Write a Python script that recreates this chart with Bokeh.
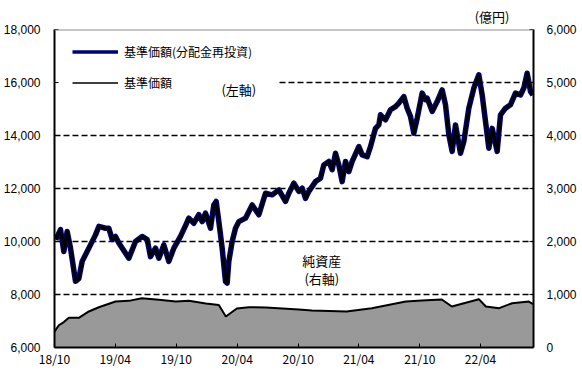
import pandas as pd
from bokeh.plotting import figure
from bokeh.models import (Range1d, LinearAxis, FixedTicker, NumeralTickFormatter,
                          Span, Label, Legend, LegendItem, BoxAnnotation)
from bokeh.embed import file_html
from bokeh.resources import INLINE

# ---- data ----
price_dates = [
    "2018-10-05", "2018-10-19", "2018-10-29", "2018-11-08", "2018-11-18", "2018-12-03",
    "2018-12-13", "2018-12-23", "2019-01-12", "2019-02-01", "2019-02-11", "2019-03-03",
    "2019-03-13", "2019-03-23", "2019-04-02", "2019-04-12", "2019-05-12", "2019-06-01",
    "2019-06-21", "2019-07-06", "2019-07-16", "2019-07-31", "2019-08-10", "2019-08-25",
    "2019-09-09", "2019-09-24", "2019-10-14", "2019-10-29", "2019-11-08", "2019-11-23",
    "2019-12-08", "2019-12-18", "2019-12-28", "2020-01-12", "2020-01-22", "2020-01-29",
    "2020-02-06", "2020-02-16", "2020-02-26", "2020-03-02", "2020-03-07", "2020-03-17",
    "2020-03-27", "2020-04-06", "2020-04-26", "2020-05-16", "2020-06-05", "2020-06-25",
    "2020-07-15", "2020-08-04", "2020-08-24", "2020-09-03", "2020-09-18", "2020-10-03",
    "2020-10-13", "2020-10-23", "2020-11-02", "2020-11-22", "2020-12-07", "2020-12-17",
    "2021-01-01", "2021-01-11", "2021-01-21", "2021-01-31", "2021-02-10", "2021-02-20",
    "2021-03-02", "2021-03-12", "2021-04-01", "2021-04-11", "2021-04-26", "2021-05-06",
    "2021-05-21", "2021-05-31", "2021-06-05", "2021-06-20", "2021-07-05", "2021-07-20",
    "2021-07-30", "2021-08-14", "2021-08-24", "2021-09-03", "2021-09-13", "2021-09-23",
    "2021-10-08", "2021-10-18", "2021-10-23", "2021-11-07", "2021-11-22", "2021-12-07",
    "2021-12-17", "2021-12-27", "2022-01-06", "2022-01-16", "2022-01-31", "2022-02-10",
    "2022-02-25", "2022-03-12", "2022-03-27", "2022-04-06", "2022-04-16", "2022-04-26",
    "2022-05-06", "2022-05-21", "2022-05-31", "2022-06-15", "2022-06-30", "2022-07-15",
    "2022-07-30", "2022-08-09", "2022-08-19", "2022-08-29", "2022-09-05",
]
nav_reinvested = [
    10075, 10450, 9620, 10380, 9750, 8500,
    8600, 9250, 9750, 10250, 10570, 10500,
    10500, 10080, 10190, 9940, 9370, 10000,
    10190, 10075, 9430, 9750, 9370, 9870,
    9250, 9750, 10190, 10600, 10880, 10690,
    11010, 10750, 11070, 10500, 11380, 11510,
    10750, 9750, 8490, 8430, 9250, 10000,
    10500, 10750, 10880, 11380, 11010, 11820,
    11760, 11950, 11510, 11820, 12200, 11890,
    12010, 11630, 11890, 12260, 12390, 12890,
    13020, 12710, 13330, 12890, 12260, 13020,
    12640, 13020, 13580, 13270, 13200, 13580,
    14270, 14400, 14780, 14590, 14970, 15090,
    15220, 15470, 15030, 14720, 14090, 14650,
    15600, 15350, 15410, 14910, 15280, 15720,
    15160, 14030, 13400, 14400, 13330, 13770,
    15030, 15790, 16290, 15530, 14530, 13520,
    14270, 13400, 14780, 15030, 15160, 15600,
    15530, 15790, 16350, 15660, 15530,
]
nav = list(nav_reinvested)  # no distributions: both series coincide

asset_dates = [
    "2018-10-01", "2018-10-14", "2018-10-29", "2018-11-13", "2018-11-22", "2018-12-13",
    "2019-01-12", "2019-02-11", "2019-04-02", "2019-05-12", "2019-06-20", "2019-08-10",
    "2019-09-30", "2019-11-08", "2019-12-29", "2020-02-06", "2020-02-27", "2020-03-31",
    "2020-05-06", "2020-06-26", "2020-10-03", "2020-11-11", "2021-02-23", "2021-05-10",
    "2021-08-20", "2021-10-07", "2021-12-06", "2022-01-05", "2022-03-27", "2022-04-17",
    "2022-05-27", "2022-07-05", "2022-08-24", "2022-09-05",
]
net_assets = [
    300, 420, 480, 560, 560, 560,
    680, 760, 868, 880, 930, 900,
    868, 880, 830, 800, 585, 736,
    760, 755, 717, 698, 679, 742,
    868, 887, 906, 774, 912, 774,
    742, 836, 868, 817,
]

xtick_dates = ["2018-10-01", "2019-04-01", "2019-10-01", "2020-04-01",
               "2020-10-01", "2021-04-01", "2021-10-01", "2022-04-01"]
xtick_labels = ["18/10", "19/04", "19/10", "20/04", "20/10", "21/04", "21/10", "22/04"]
left_ticks = [6000, 8000, 10000, 12000, 14000, 16000, 18000]
grid_ticks = [8000, 10000, 12000, 14000, 16000]
right_ticks = [0, 1000, 2000, 3000, 4000, 5000, 6000]

# ---- figure ----
JP = "Noto Sans CJK JP"
NUM = "Liberation Sans"

pdates = pd.to_datetime(price_dates)
adates = pd.to_datetime(asset_dates)
x_start = pd.Timestamp("2018-10-01")
x_end = pd.Timestamp("2022-09-07")

p = figure(frame_width=479, frame_height=318, output_backend="svg", toolbar_location=None,
           x_axis_type="datetime",
           x_range=Range1d(x_start, x_end), y_range=Range1d(6000, 18000),
           min_border_left=47, min_border_right=40, min_border_top=28, min_border_bottom=26)
p.extra_y_ranges = {"assets": Range1d(0, 6000)}
p.outline_line_color = None
p.background_fill_color = "white"
p.border_fill_color = "white"

# unit label above the right axis
p.title.text = "(億円)"
p.title.align = "right"
p.title.offset = 24
p.title.standoff = 8
p.title.text_font = JP
p.title.text_font_size = "13px"
p.title.text_font_style = "normal"
p.title.text_color = "black"

# grid
p.xgrid.visible = False
p.ygrid.ticker = FixedTicker(ticks=grid_ticks)
p.ygrid.grid_line_color = "black"
p.ygrid.grid_line_dash = "6 3"
p.ygrid.grid_line_width = 1.6

# top border
p.add_layout(Span(location=18000, dimension="width", line_color="#8c8c8c", line_width=2))

# white legend area that masks the gridline behind the legend
p.add_layout(BoxAnnotation(left=x_start, right=pd.Timestamp("2020-07-29"),
                           bottom=15650, top=16350, fill_color="white", fill_alpha=1,
                           line_color=None, level="underlay"))

# net assets area (right axis)
p.varea(x=adates, y1=0, y2=net_assets, fill_color="#999999", y_range_name="assets")
p.line(x=adates, y=net_assets, line_color="black", line_width=2, y_range_name="assets")

# price lines
p.line(x=pdates, y=nav_reinvested, line_color="#000080", line_width=5.5, line_join="round")
p.line(x=pdates, y=nav, line_color="black", line_width=3, line_join="round")

# legend-only renderers (drawn off-range, only their legend glyphs are visible)
leg1 = p.line(x=[x_start, x_start], y=[0, 0], line_color="#000080", line_width=3.5)
leg2 = p.line(x=[x_start, x_start], y=[0, 0], line_color="black", line_width=1.5)
legend = Legend(items=[LegendItem(label="基準価額(分配金再投資)", renderers=[leg1]),
                       LegendItem(label="基準価額", renderers=[leg2])],
                location=(18, 255), orientation="vertical",
                border_line_color=None, background_fill_alpha=0,
                padding=0, margin=0, spacing=12, label_height=19, glyph_height=19,
                glyph_width=46, label_standoff=6,
                label_text_font=JP, label_text_font_size="12px", label_text_color="black")
p.add_layout(legend)

# axes
xax = p.xaxis[0]
xax.ticker = FixedTicker(ticks=[pd.Timestamp(d).timestamp() * 1000 for d in xtick_dates])
xax.major_label_overrides = {pd.Timestamp(d).timestamp() * 1000: l
                             for d, l in zip(xtick_dates, xtick_labels)}
yax = p.yaxis[0]
yax.ticker = FixedTicker(ticks=left_ticks)
yax.formatter = NumeralTickFormatter(format="0,0")

rax = LinearAxis(y_range_name="assets", ticker=FixedTicker(ticks=right_ticks),
                 formatter=NumeralTickFormatter(format="0,0"))
p.add_layout(rax, "right")

for ax in (xax, yax, rax):
    ax.axis_line_color = "black"
    ax.axis_line_width = 2
    ax.major_tick_in = 4
    ax.major_tick_out = 0
    ax.major_tick_line_color = "black"
    ax.minor_tick_line_color = None
    ax.major_label_text_color = "black"
    ax.major_label_text_font_size = "12px"
    ax.major_label_text_font = NUM
xax.major_label_text_font = JP
xax.major_label_standoff = 2
yax.major_label_standoff = 14
rax.major_label_standoff = 13

# annotations
txt = dict(text_font=JP, text_font_size="13px", text_color="black",
           text_align="center", text_baseline="middle")
p.add_layout(Label(x=pd.Timestamp("2020-04-06"), y=15736, text="(左軸)", **txt))
p.add_layout(Label(x=pd.Timestamp("2020-12-11"), y=9283, text="純資産", **txt))
p.add_layout(Label(x=pd.Timestamp("2020-12-11"), y=8604, text="(右軸)", **txt))

open("out.html", "w").write(file_html(p, INLINE))
